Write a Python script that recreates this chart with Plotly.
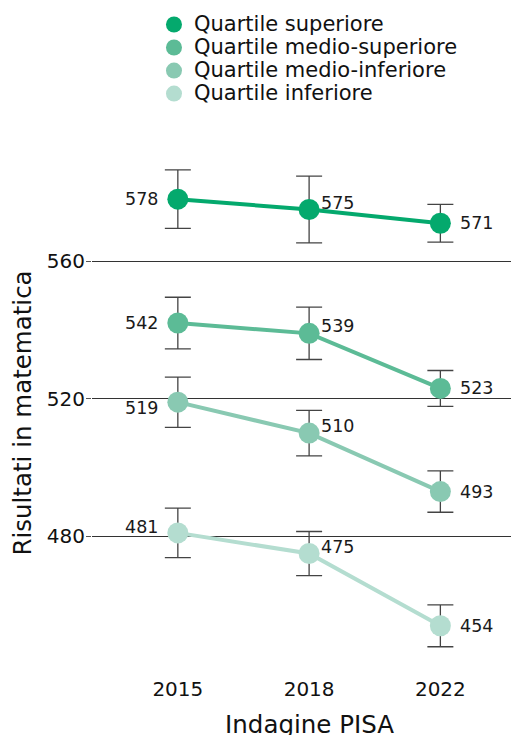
import plotly.graph_objects as go

years = ["2015", "2018", "2022"]
series_names = ["Quartile superiore", "Quartile medio-superiore",
                "Quartile medio-inferiore", "Quartile inferiore"]
top_q = [578, 575, 571]
upper_mid_q = [542, 539, 523]
lower_mid_q = [519, 510, 493]
bottom_q = [481, 475, 454]
top_err = [8.5, 9.7, 5.5]
upper_mid_err = [7.5, 7.6, 5.2]
lower_mid_err = [7.3, 6.6, 6.0]
bottom_err = [7.2, 6.4, 6.1]
y_ticks = [480, 520, 560]

colors = ["#04A96D", "#5CBB96", "#89C9B2", "#B4DDD0"]
values = [top_q, upper_mid_q, lower_mid_q, bottom_q]
errors = [top_err, upper_mid_err, lower_mid_err, bottom_err]

FONT = "DejaVu Sans"
fig = go.Figure()
for k, (name, vals, errs, col) in enumerate(zip(series_names, values, errors, colors)):
    fig.add_trace(go.Scatter(
        x=years, y=vals, mode="lines", legendgroup=f"g{k}", showlegend=False,
        line=dict(color=col, width=4), hoverinfo="skip",
    ))
    fig.add_trace(go.Scatter(
        x=years, y=vals, name=f"<span style='font-size:21px'>{name}</span>",
        mode="markers", legendgroup=f"g{k}",
        marker=dict(color=col, size=21),
        error_y=dict(type="data", array=errs, visible=True,
                     color="#444444", thickness=1.3, width=13),
        hovertemplate=name + ": %{y}<extra></extra>",
    ))

annotations = []
for si, vals in enumerate(values):
    for i, v in enumerate(vals):
        if i == 0:
            xa, xs = "right", -18
            ys = 0
            if si == 2:
                ys = -6
            elif si == 3:
                ys = 6
        elif i == 1:
            xa, xs, ys = "left", 10, 7
        else:
            xa, xs, ys = "left", 18, 0
        annotations.append(dict(
            x=i, y=v, xref="x", yref="y", text=str(v), showarrow=False,
            xanchor=xa, yanchor="middle", xshift=xs, yshift=ys,
            font=dict(family=FONT, size=17.5, color="#1a1a1a"),
        ))

fig.update_layout(
    width=519, height=735,
    margin=dict(l=84, r=0, t=142, b=67),
    paper_bgcolor="white", plot_bgcolor="white",
    font=dict(family=FONT, size=20, color="#111111"),
    showlegend=True,
    legend=dict(x=0.1425, xanchor="left", xref="paper",
                y=1, yanchor="top", yref="container",
                font=dict(family=FONT, size=15.4, color="#111111"),
                tracegroupgap=0, itemsizing="trace",
                bgcolor="rgba(0,0,0,0)"),
    annotations=annotations,
    xaxis=dict(type="category", range=[-0.654, 2.66], automargin=False,
               showgrid=False, zeroline=False, showline=False,
               ticks="", ticklabelstandoff=-1,
               tickfont=dict(size=20),
               title=dict(text="Indagine PISA", font=dict(size=24.5), standoff=15)),
    yaxis=dict(range=[439.4, 592.3], tickvals=y_ticks, automargin=False,
               showgrid=True, gridcolor="#333333", gridwidth=1,
               zeroline=False, showline=False,
               ticks="outside", ticklen=5, tickcolor="#555555",
               ticklabelstandoff=-3,
               tickfont=dict(size=20),
               title=dict(text="Risultati in matematica", font=dict(size=24.5), standoff=13)),
)

fig.write_html("out.html")
